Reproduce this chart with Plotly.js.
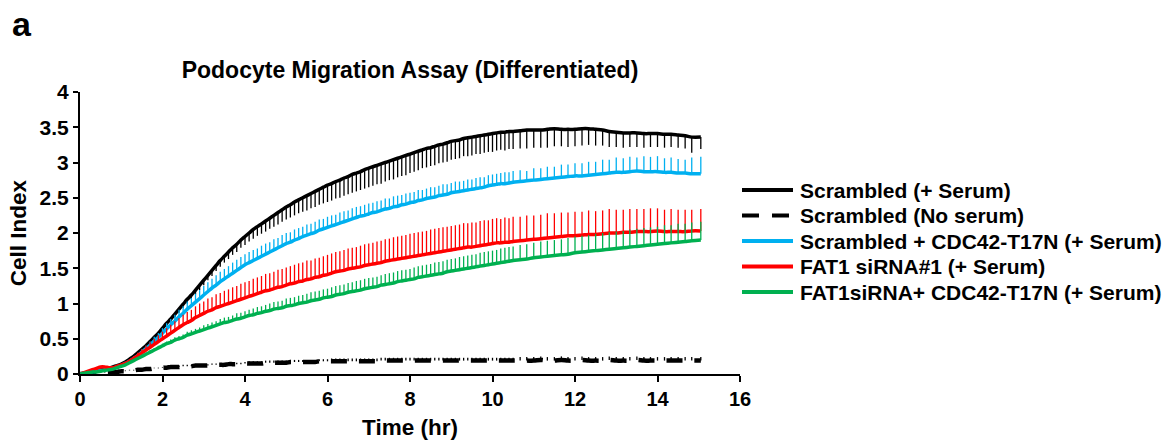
<!DOCTYPE html>
<html>
<head>
<meta charset="utf-8">
<script src="https://cdn.plot.ly/plotly-3.0.1.min.js"></script>
<style>html,body{margin:0;padding:0;background:#fff;}#chart{width:1174px;height:444px;}</style>
</head>
<body>
<div id="chart"></div>
<script>
// Time (hr)
const time = [0,
0.1,0.2,0.3,0.4,0.5,0.6,0.7,0.8,0.9,1.0,
1.1,1.2,1.3,1.4,1.5,1.6,1.7,1.8,1.9,2.0,
2.1,2.2,2.3,2.4,2.5,2.6,2.7,2.8,2.9,3.0,
3.1,3.2,3.3,3.4,3.5,3.6,3.7,3.8,3.9,4.0,
4.1,4.2,4.3,4.4,4.5,4.6,4.7,4.8,4.9,5.0,
5.1,5.2,5.3,5.4,5.5,5.6,5.7,5.8,5.9,6.0,
6.1,6.2,6.3,6.4,6.5,6.6,6.7,6.8,6.9,7.0,
7.1,7.2,7.3,7.4,7.5,7.6,7.7,7.8,7.9,8.0,
8.1,8.2,8.3,8.4,8.5,8.6,8.7,8.8,8.9,9.0,
9.1,9.2,9.3,9.4,9.5,9.6,9.7,9.8,9.9,10.0,
10.1,10.2,10.3,10.4,10.5,
10.67,10.83,11.0,11.17,11.33,11.5,11.67,11.83,12.0,12.17,12.33,12.5,12.67,12.83,13.0,13.17,13.33,13.5,13.67,13.83,14.0,14.17,14.33,14.5,14.67,14.83,15.05];

const scrambledSerum = [0,
0.01,0.02,0.04,0.05,0.06,0.07,0.08,0.10,0.12,0.14,
0.17,0.21,0.25,0.30,0.35,0.40,0.46,0.52,0.58,0.65,
0.72,0.78,0.85,0.92,0.99,1.06,1.12,1.19,1.26,1.33,
1.40,1.47,1.54,1.61,1.67,1.73,1.79,1.84,1.90,1.95,
2.00,2.05,2.09,2.13,2.17,2.21,2.25,2.29,2.33,2.37,
2.40,2.44,2.47,2.50,2.53,2.56,2.59,2.62,2.65,2.68,
2.70,2.73,2.75,2.78,2.80,2.83,2.85,2.87,2.90,2.92,
2.94,2.96,2.98,3.00,3.02,3.04,3.06,3.08,3.10,3.12,
3.14,3.16,3.18,3.20,3.21,3.23,3.25,3.26,3.28,3.30,
3.31,3.32,3.34,3.35,3.36,3.37,3.38,3.39,3.40,3.41,
3.42,3.43,3.43,3.44,3.44,
3.45,3.46,3.46,3.46,3.47,3.48,3.47,3.47,3.47,3.48,3.48,3.47,3.46,3.44,3.43,3.42,3.42,3.42,3.41,3.41,3.41,3.40,3.40,3.39,3.38,3.36,3.36];
const scrambledSerumErr = [0.01,
0.01,0.01,0.01,0.01,0.01,0.01,0.01,0.01,0.01,0.01,
0.02,0.02,0.02,0.03,0.03,0.03,0.03,0.04,0.04,0.04,
0.04,0.05,0.05,0.05,0.05,0.06,0.06,0.06,0.07,0.07,
0.07,0.08,0.08,0.09,0.09,0.10,0.10,0.11,0.11,0.12,
0.12,0.13,0.13,0.14,0.15,0.15,0.16,0.17,0.17,0.18,
0.18,0.19,0.19,0.20,0.21,0.21,0.22,0.22,0.23,0.24,
0.24,0.24,0.25,0.25,0.25,0.26,0.26,0.26,0.27,0.27,
0.27,0.27,0.28,0.27,0.27,0.28,0.27,0.27,0.28,0.27,
0.27,0.27,0.26,0.27,0.26,0.27,0.26,0.26,0.27,0.26,
0.26,0.26,0.25,0.26,0.26,0.25,0.26,0.25,0.25,0.26,
0.25,0.25,0.26,0.25,0.25,
0.25,0.26,0.25,0.25,0.26,0.25,0.24,0.25,0.24,0.24,0.23,0.23,0.22,0.22,0.21,0.21,0.20,0.20,0.20,0.19,0.19,0.19,0.18,0.18,0.18,0.22,0.17];

const scrambledNoSerum = [0,
0.00,0.01,0.01,0.01,0.02,0.02,0.02,0.03,0.03,0.04,
0.04,0.05,0.05,0.06,0.06,0.07,0.07,0.08,0.08,0.09,
0.09,0.10,0.10,0.10,0.11,0.11,0.11,0.12,0.12,0.12,
0.12,0.13,0.13,0.13,0.13,0.14,0.14,0.14,0.14,0.15,
0.15,0.15,0.15,0.15,0.16,0.16,0.16,0.16,0.16,0.16,
0.17,0.17,0.17,0.17,0.17,0.17,0.17,0.18,0.18,0.18,
0.18,0.18,0.18,0.18,0.18,0.18,0.18,0.18,0.18,0.18,
0.18,0.18,0.19,0.19,0.19,0.19,0.19,0.19,0.19,0.19,
0.19,0.19,0.19,0.19,0.19,0.19,0.19,0.19,0.19,0.19,
0.19,0.19,0.19,0.19,0.19,0.19,0.19,0.19,0.19,0.19,
0.19,0.19,0.19,0.19,0.19,
0.19,0.19,0.19,0.20,0.19,0.19,0.20,0.19,0.19,0.20,0.19,0.19,0.19,0.20,0.19,0.19,0.19,0.20,0.19,0.19,0.19,0.19,0.19,0.19,0.19,0.19,0.19];
const scrambledNoSerumErr = [0.01,
0.01,0.01,0.01,0.01,0.01,0.01,0.01,0.01,0.01,0.01,
0.01,0.01,0.01,0.01,0.01,0.01,0.01,0.01,0.01,0.01,
0.02,0.02,0.02,0.02,0.02,0.02,0.02,0.02,0.02,0.02,
0.02,0.02,0.02,0.02,0.02,0.02,0.02,0.02,0.02,0.02,
0.03,0.03,0.03,0.03,0.03,0.03,0.03,0.03,0.03,0.03,
0.03,0.03,0.03,0.03,0.03,0.03,0.03,0.03,0.03,0.03,
0.04,0.04,0.04,0.04,0.04,0.04,0.04,0.04,0.04,0.04,
0.04,0.04,0.04,0.04,0.04,0.04,0.04,0.04,0.04,0.04,
0.04,0.04,0.04,0.04,0.04,0.04,0.04,0.04,0.04,0.04,
0.04,0.04,0.04,0.04,0.04,0.04,0.04,0.04,0.04,0.04,
0.04,0.04,0.04,0.04,0.04,
0.05,0.05,0.05,0.05,0.05,0.05,0.05,0.05,0.05,0.05,0.05,0.05,0.05,0.05,0.05,0.05,0.05,0.05,0.05,0.05,0.05,0.05,0.05,0.05,0.05,0.05,0.05];

const scrambledCdc42 = [0,
0.01,0.02,0.03,0.04,0.05,0.06,0.07,0.08,0.10,0.12,
0.15,0.18,0.22,0.26,0.31,0.36,0.41,0.47,0.52,0.58,
0.64,0.70,0.75,0.81,0.86,0.92,0.97,1.02,1.07,1.12,
1.17,1.22,1.26,1.31,1.35,1.39,1.43,1.47,1.51,1.55,
1.58,1.61,1.64,1.67,1.70,1.73,1.76,1.79,1.82,1.85,
1.87,1.90,1.92,1.95,1.97,1.99,2.01,2.04,2.06,2.08,
2.10,2.12,2.14,2.16,2.18,2.20,2.22,2.24,2.25,2.27,
2.29,2.30,2.32,2.34,2.35,2.37,2.38,2.40,2.41,2.43,
2.44,2.46,2.47,2.49,2.50,2.51,2.53,2.54,2.55,2.57,
2.58,2.59,2.60,2.61,2.62,2.63,2.64,2.65,2.67,2.68,
2.69,2.70,2.70,2.71,2.72,
2.73,2.74,2.75,2.76,2.77,2.78,2.79,2.80,2.81,2.81,2.82,2.83,2.84,2.85,2.86,2.86,2.87,2.88,2.87,2.87,2.87,2.86,2.86,2.85,2.85,2.84,2.84];
const scrambledCdc42Err = [0.01,
0.01,0.01,0.01,0.01,0.01,0.01,0.01,0.01,0.01,0.01,
0.02,0.02,0.03,0.03,0.04,0.04,0.05,0.06,0.06,0.07,
0.08,0.08,0.09,0.10,0.10,0.11,0.11,0.12,0.12,0.13,
0.13,0.13,0.14,0.14,0.14,0.14,0.15,0.15,0.15,0.15,
0.15,0.15,0.14,0.15,0.15,0.14,0.15,0.14,0.15,0.15,
0.14,0.15,0.15,0.14,0.15,0.14,0.15,0.15,0.14,0.15,
0.15,0.14,0.15,0.15,0.14,0.15,0.15,0.14,0.15,0.15,
0.14,0.15,0.14,0.15,0.14,0.15,0.15,0.14,0.15,0.14,
0.14,0.15,0.14,0.14,0.15,0.14,0.14,0.15,0.14,0.14,
0.15,0.14,0.14,0.15,0.14,0.15,0.15,0.14,0.15,0.15,
0.15,0.15,0.16,0.15,0.16,
0.16,0.14,0.17,0.16,0.17,0.16,0.18,0.17,0.18,0.18,0.19,0.18,0.20,0.19,0.21,0.20,0.21,0.19,0.22,0.21,0.22,0.20,0.21,0.20,0.19,0.23,0.24];

const fat1Sirna = [0,
0.02,0.04,0.06,0.08,0.10,0.10,0.09,0.09,0.11,0.13,
0.15,0.18,0.22,0.26,0.30,0.34,0.38,0.42,0.46,0.50,
0.54,0.58,0.62,0.66,0.70,0.73,0.76,0.80,0.83,0.86,
0.89,0.91,0.94,0.96,0.98,1.00,1.02,1.04,1.06,1.08,
1.10,1.12,1.14,1.16,1.18,1.19,1.21,1.23,1.24,1.26,
1.28,1.29,1.31,1.32,1.34,1.35,1.37,1.38,1.40,1.41,
1.43,1.45,1.46,1.47,1.49,1.50,1.51,1.52,1.54,1.55,
1.56,1.57,1.58,1.60,1.61,1.62,1.63,1.64,1.65,1.66,
1.67,1.68,1.69,1.70,1.71,1.72,1.73,1.74,1.75,1.76,
1.77,1.78,1.79,1.80,1.80,1.81,1.82,1.83,1.84,1.85,
1.86,1.86,1.87,1.87,1.88,
1.89,1.90,1.91,1.92,1.93,1.94,1.95,1.96,1.96,1.97,1.98,1.98,1.99,2.00,2.00,2.01,2.01,2.02,2.02,2.02,2.03,2.02,2.02,2.02,2.02,2.03,2.03];
const fat1SirnaErr = [0.01,
0.01,0.01,0.01,0.01,0.01,0.01,0.01,0.01,0.01,0.01,
0.02,0.03,0.03,0.04,0.05,0.06,0.07,0.08,0.09,0.10,
0.11,0.12,0.13,0.13,0.14,0.15,0.15,0.16,0.17,0.17,
0.18,0.18,0.19,0.19,0.20,0.20,0.21,0.21,0.22,0.22,
0.22,0.23,0.23,0.23,0.24,0.24,0.24,0.25,0.25,0.25,
0.25,0.26,0.26,0.26,0.27,0.26,0.27,0.27,0.27,0.28,
0.28,0.28,0.28,0.29,0.29,0.29,0.29,0.30,0.30,0.30,
0.30,0.31,0.31,0.31,0.31,0.32,0.32,0.32,0.32,0.33,
0.33,0.33,0.33,0.33,0.34,0.34,0.34,0.34,0.34,0.34,
0.34,0.34,0.35,0.34,0.35,0.34,0.35,0.35,0.34,0.35,
0.35,0.34,0.35,0.34,0.35,
0.34,0.35,0.34,0.34,0.35,0.34,0.34,0.33,0.34,0.33,0.34,0.33,0.33,0.34,0.33,0.32,0.33,0.32,0.32,0.33,0.32,0.31,0.32,0.31,0.31,0.30,0.31];

const fat1SirnaCdc42 = [0,
0.01,0.02,0.03,0.03,0.04,0.05,0.06,0.07,0.09,0.11,
0.13,0.16,0.19,0.22,0.25,0.28,0.31,0.34,0.37,0.40,
0.43,0.45,0.48,0.50,0.52,0.55,0.57,0.59,0.61,0.63,
0.65,0.67,0.69,0.71,0.73,0.74,0.76,0.78,0.79,0.81,
0.83,0.84,0.86,0.87,0.89,0.90,0.92,0.93,0.94,0.96,
0.97,0.98,1.00,1.01,1.02,1.04,1.05,1.06,1.08,1.09,
1.10,1.12,1.13,1.14,1.16,1.17,1.18,1.19,1.21,1.22,
1.23,1.24,1.26,1.27,1.28,1.29,1.31,1.32,1.33,1.34,
1.35,1.37,1.38,1.39,1.40,1.41,1.42,1.43,1.45,1.46,
1.47,1.48,1.49,1.50,1.51,1.52,1.53,1.54,1.55,1.56,
1.57,1.58,1.59,1.60,1.61,
1.62,1.63,1.65,1.66,1.67,1.68,1.69,1.70,1.72,1.73,1.74,1.75,1.76,1.77,1.78,1.79,1.80,1.81,1.82,1.83,1.84,1.85,1.86,1.87,1.88,1.89,1.90];
const fat1SirnaCdc42Err = [0.01,
0.01,0.01,0.01,0.01,0.01,0.01,0.01,0.01,0.01,0.01,
0.01,0.01,0.02,0.02,0.02,0.02,0.03,0.03,0.03,0.03,
0.03,0.04,0.04,0.04,0.04,0.05,0.05,0.05,0.05,0.06,
0.06,0.06,0.06,0.07,0.07,0.07,0.07,0.08,0.08,0.08,
0.08,0.09,0.09,0.09,0.09,0.10,0.10,0.10,0.10,0.11,
0.11,0.11,0.11,0.11,0.12,0.12,0.12,0.12,0.12,0.12,
0.13,0.13,0.13,0.13,0.13,0.13,0.14,0.14,0.14,0.14,
0.14,0.14,0.14,0.15,0.15,0.15,0.15,0.15,0.15,0.15,
0.16,0.16,0.16,0.16,0.16,0.17,0.17,0.17,0.17,0.17,
0.17,0.18,0.18,0.18,0.18,0.18,0.19,0.19,0.19,0.19,
0.19,0.20,0.20,0.20,0.20,
0.21,0.21,0.21,0.22,0.22,0.22,0.22,0.23,0.23,0.23,0.23,0.24,0.24,0.24,0.24,0.24,0.25,0.25,0.25,0.25,0.25,0.26,0.25,0.26,0.25,0.26,0.26];

const seriesNames = [
  'Scrambled (+ Serum)',
  'Scrambled (No serum)',
  'Scrambled + CDC42-T17N (+ Serum)',
  'FAT1 siRNA#1 (+ Serum)',
  'FAT1siRNA+ CDC42-T17N (+ Serum)'
];
const seriesColors = ['#000000', '#000000', '#00B0F0', '#FF0000', '#00B050'];
const seriesDash = ['solid', '16px,12px', 'solid', 'solid', 'solid'];
const seriesWidth = [3.5, 4.5, 3.5, 3.5, 3.5];
const seriesY = [scrambledSerum, scrambledNoSerum, scrambledCdc42, fat1Sirna, fat1SirnaCdc42];
const seriesErr = [scrambledSerumErr, scrambledNoSerumErr, scrambledCdc42Err, fat1SirnaErr, fat1SirnaCdc42Err];
const errDown = [true, false, false, false, false];
const xTicks = [0, 2, 4, 6, 8, 10, 12, 14, 16];
const yTicks = [0, 0.5, 1, 1.5, 2, 2.5, 3, 3.5, 4];

const FONT = 'Liberation Sans, Arial, Helvetica, sans-serif';

const traces = seriesY.map((ys, i) => {
  const zeros = ys.map(() => 0);
  return {
    type: 'scatter', mode: 'lines', name: seriesNames[i],
    x: time, y: ys,
    line: {color: seriesColors[i], width: seriesWidth[i], dash: seriesDash[i], shape: 'spline', smoothing: 1},
    error_y: {
      type: 'data', symmetric: false, visible: true,
      array: errDown[i] ? zeros : seriesErr[i],
      arrayminus: errDown[i] ? seriesErr[i] : zeros,
      color: seriesColors[i], thickness: 1.3, width: 0
    },
    showlegend: false
  };
});

// plot area in pixels
const L = 80, R = 434, T = 92, B = 70, W = 1174, H = 444;
const pw = W - L - R, ph = H - T - B;
const px = v => (v - L) / pw;
const py = v => (H - B - v) / ph;

const legendRows = [190, 215.5, 241, 266.5, 292];
const shapes = [];
const annotations = [];
seriesNames.forEach((n, i) => {
  shapes.push({
    type: 'line', xref: 'paper', yref: 'paper',
    x0: px(742), x1: px(793), y0: py(legendRows[i]), y1: py(legendRows[i]),
    line: {color: seriesColors[i], width: 4, dash: i === 1 ? '17px,13px' : 'solid'}
  });
  annotations.push({
    xref: 'paper', yref: 'paper', x: px(798), y: py(legendRows[i]),
    xanchor: 'left', yanchor: 'middle', showarrow: false,
    text: '<b>' + n + '</b>', font: {family: FONT, size: 21, color: '#000'}
  });
});
annotations.push({
  xref: 'paper', yref: 'paper', x: px(10), y: py(24),
  xanchor: 'left', yanchor: 'middle', showarrow: false,
  text: '<b>a</b>', font: {family: FONT, size: 34, color: '#000'}
});

const layout = {
  width: W, height: H,
  margin: {l: L, r: R, t: T, b: B, pad: 0},
  paper_bgcolor: '#fff', plot_bgcolor: '#fff',
  showlegend: false,
  font: {family: FONT, color: '#000'},
  title: {
    text: '<b>Podocyte Migration Assay (Differentiated)</b>',
    font: {family: FONT, size: 23, color: '#000'},
    xref: 'paper', x: 0.5, xanchor: 'center',
    yref: 'container', y: 1 - 70 / H, yanchor: 'middle'
  },
  xaxis: {
    range: [0, 16], tickvals: xTicks, ticktext: xTicks.map(String),
    ticks: 'outside', ticklen: 6, tickwidth: 2, tickcolor: '#000',
    showline: true, linewidth: 2, linecolor: '#000',
    showgrid: false, zeroline: false,
    tickfont: {family: FONT, size: 20, color: '#000', weight: 'bold'},
    title: {text: '<b>Time (hr)</b>', font: {family: FONT, size: 22.5, color: '#000'}, standoff: 10}
  },
  yaxis: {
    range: [0, 4], tickvals: yTicks, ticktext: yTicks.map(String),
    ticks: 'outside', ticklen: 5, tickwidth: 2, tickcolor: '#000',
    showline: true, linewidth: 2, linecolor: '#000',
    showgrid: false, zeroline: false,
    tickfont: {family: FONT, size: 21, color: '#000', weight: 'bold'},
    title: {text: '<b>Cell Index</b>', font: {family: FONT, size: 22.5, color: '#000'}, standoff: 7}
  },
  shapes: shapes,
  annotations: annotations
};

Plotly.newPlot('chart', traces, layout, {displayModeBar: false, staticPlot: true});
</script>
</body>
</html>
